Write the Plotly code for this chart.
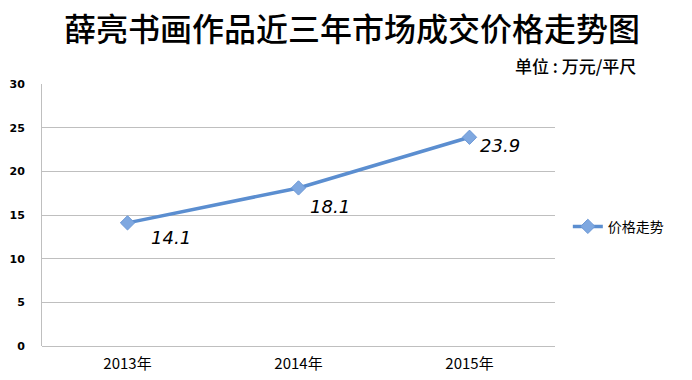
import plotly.graph_objects as go

categories = ["2013年", "2014年", "2015年"]
values = [14.1, 18.1, 23.9]
label_texts = ["14.1", "18.1", "23.9"]
series_name = "价格走势"
title_text = "薛亮书画作品近三年市场成交价格走势图"
unit_text = "单位 : 万元/平尺"
y_ticks = [0, 5, 10, 15, 20, 25, 30]

fig = go.Figure()
fig.add_trace(go.Scatter(
    x=categories, y=values, name=series_name, mode="lines+markers",
    line=dict(color="#5B8ED0", width=3.5),
    marker=dict(symbol="diamond", size=11, color="#7FA8E0",
                line=dict(color="#6C98D6", width=1)),
))

# data labels
offsets = [(43, -15), (31, -19), (30, -8)]
for c, v, t, (dx, dy) in zip(categories, values, label_texts, offsets):
    fig.add_annotation(x=c, y=v, text="<i>" + t + "</i>", showarrow=False,
                       xanchor="center", yanchor="middle",
                       xshift=dx, yshift=dy,
                       font=dict(family="DejaVu Sans", size=18, color="#000000"))

fig.add_annotation(text=title_text, xref="paper", yref="paper",
                   x=0.604, y=1.0, yshift=57, showarrow=False,
                   xanchor="center", yanchor="middle",
                   font=dict(family="Noto Sans CJK SC", size=32, color="#000000", weight=500))
fig.add_annotation(text=unit_text, xref="paper", yref="paper",
                   x=1.0, xshift=83, y=1.0, yshift=19, showarrow=False,
                   xanchor="right", yanchor="middle",
                   font=dict(family="Noto Sans CJK SC", size=17, color="#000000", weight=500))

fig.update_layout(
    width=692, height=380,
    margin=dict(l=42, r=137, t=84, b=34, autoexpand=False),
    paper_bgcolor="white", plot_bgcolor="white",
    showlegend=True,
    legend=dict(x=1.025, y=0.455, xanchor="left", yanchor="middle",
                font=dict(family="Noto Sans CJK SC", size=14, color="#000000"),
                bgcolor="rgba(0,0,0,0)"),
    xaxis=dict(type="category", range=[-0.5, 2.5], automargin=False,
               showgrid=False, showline=False, ticks="", ticklabelstandoff=7,
               tickfont=dict(family="Noto Sans CJK SC", size=15, color="#000000")),
    yaxis=dict(range=[0, 30], tickvals=y_ticks, showgrid=True, automargin=False,
               gridcolor="#BFBFBF", gridwidth=1, zeroline=True,
               zerolinecolor="#BFBFBF", zerolinewidth=1,
               showline=True, linecolor="#BFBFBF", linewidth=1,
               ticks="", ticklabelstandoff=14,
               tickfont=dict(family="DejaVu Sans", size=11, color="#000000", weight="bold")),
)

fig.write_html("out.html", config={"displayModeBar": False},
               post_script="document.body.style.margin='0';")
